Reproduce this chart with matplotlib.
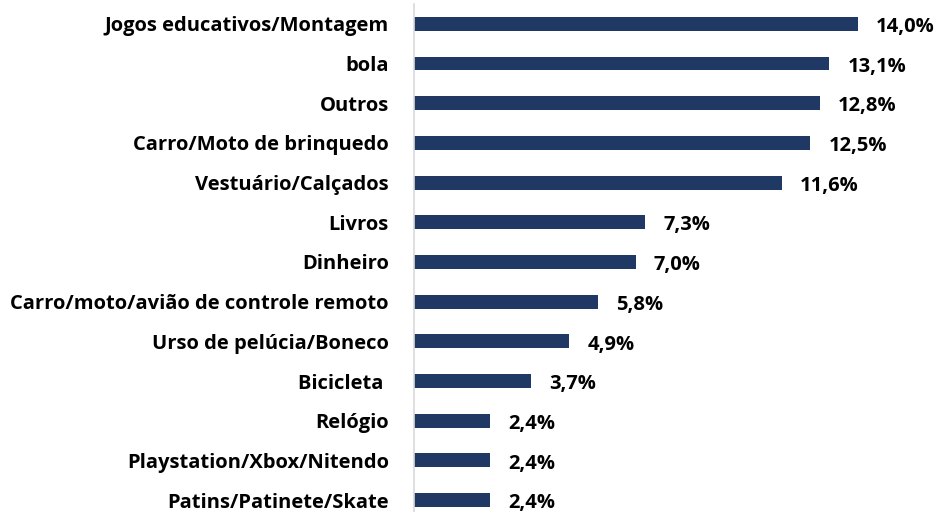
import matplotlib.pyplot as plt

categorias = ["Jogos educativos/Montagem", "bola", "Outros", "Carro/Moto de brinquedo",
              "Vestuário/Calçados", "Livros", "Dinheiro", "Carro/moto/avião de controle remoto",
              "Urso de pelúcia/Boneco", "Bicicleta ", "Relógio", "Playstation/Xbox/Nitendo",
              "Patins/Patinete/Skate"]
valores = [14.0, 13.1, 12.8, 12.5, 11.6, 7.3, 7.0, 5.8, 4.9, 3.7, 2.4, 2.4, 2.4]
rotulos = ["14,0%", "13,1%", "12,8%", "12,5%", "11,6%", "7,3%", "7,0%", "5,8%",
           "4,9%", "3,7%", "2,4%", "2,4%", "2,4%"]

plt.rcParams['font.family'] = ['Open Sans', 'DejaVu Sans']

fig = plt.figure(figsize=(9.37, 5.12), dpi=100)
ax = fig.add_axes([414 / 937, 0, 1 - 414 / 937, 1 - 4 / 512])

y = list(range(len(categorias)))
ax.barh(y, valores, height=0.35, color="#1F3864")

for i, (v, r) in enumerate(zip(valores, rotulos)):
    ax.text(v + 0.57, i + 0.08, r, va="center", ha="left", fontsize=14.5, fontweight="bold")

ax.set_yticks(y)
ax.set_yticklabels(categorias, fontsize=14.5, fontweight="bold")
ax.tick_params(axis="y", length=0, pad=18)
ax.set_xticks([])
ax.set_xlim(0, 16.5)
ax.set_ylim(12.3, -0.5)

for s in ["top", "right", "bottom"]:
    ax.spines[s].set_visible(False)
ax.spines["left"].set_color("#D9D9D9")
ax.spines["left"].set_linewidth(1.2)

fig.savefig("out.png", dpi=100)
